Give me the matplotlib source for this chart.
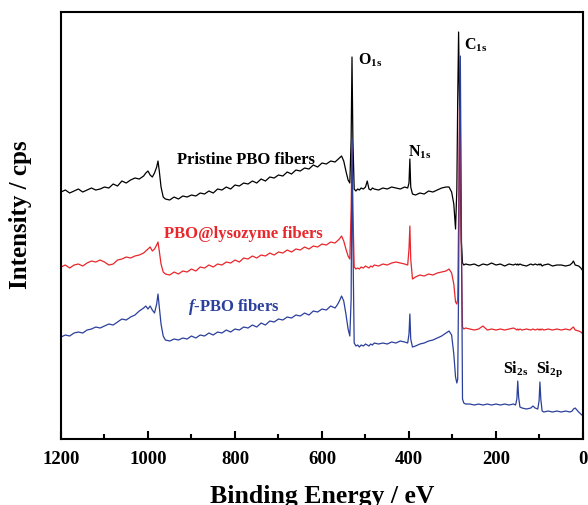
import numpy as np
import matplotlib
matplotlib.use("Agg")
import matplotlib.pyplot as plt
from matplotlib.ticker import MultipleLocator

# ------------------------------------------------------------
# data (binding energy grid shared by the three survey spectra)
# ------------------------------------------------------------
energy = [
    1200, 1190, 1180, 1170, 1160, 1150, 1140, 1130, 1120, 1110,
    1100, 1090, 1080, 1070, 1060, 1050, 1040, 1030, 1020, 1010,
    1005, 1000, 995, 990, 985, 980, 977, 974, 970, 965, 960,
    950, 940, 930, 920, 910, 900, 890, 880, 870, 860,
    850, 840, 830, 820, 810, 800, 790, 780, 770, 760,
    750, 740, 730, 720, 710, 700, 690, 680, 670, 660,
    650, 640, 630, 620, 610, 600, 590, 580, 570,
    565, 560, 555, 550, 545, 540, 536, 533, 531, 529, 526,
    522, 518, 514, 510, 505, 500, 496, 492, 488, 484, 480,
    470, 460, 450, 440, 430, 420, 410, 403, 400, 398, 396, 392,
    385, 375, 365, 355, 345, 335, 325, 315, 308, 302, 297,
    293, 290, 288, 286, 284, 282, 280, 277, 274, 270,
    260, 250, 240, 230, 220, 210, 200, 190, 180, 170, 160,
    155, 152, 150, 148, 145, 140,
    130, 120, 115, 110, 104, 101, 99, 97, 94, 90,
    80, 70, 60, 50, 40, 30,
    25, 22, 18, 10, 5, 0,
]

pristine = [
    247, 249, 246, 248, 250, 247, 249, 251, 249, 250,
    252, 251, 255, 253, 258, 256, 259, 261, 260, 263,
    266, 268, 264, 262, 266, 272, 278, 268, 252, 242, 240,
    239, 242, 240, 243, 242, 244, 243, 246, 245, 248,
    246, 250, 249, 252, 250, 254, 253, 256, 255, 258,
    256, 260, 258, 262, 261, 264, 263, 267, 265, 269,
    268, 271, 270, 274, 272, 276, 275, 278, 277,
    279, 281, 283, 278, 268, 259, 256, 300, 382, 300, 250,
    248, 250, 249, 251, 250, 252, 258, 250, 249, 251, 250,
    249, 251, 250, 252, 251, 250, 252, 251, 256, 280, 252, 245,
    244, 246, 245, 248, 247, 249, 251, 252, 252, 247, 235,
    210, 250, 340, 407, 340, 260, 200, 176, 174, 175,
    174, 175, 173, 175, 174, 176, 174, 175, 173, 175, 174,
    175, 174, 175, 174, 175, 174,
    173, 175, 174, 175, 174, 175, 174, 175, 173, 174,
    175, 173, 174, 174, 173, 174,
    176, 178, 174, 173, 171, 168,
]

lysozyme = [
    172, 174, 171, 174, 175, 173, 176, 178, 177, 179,
    177, 174, 175, 179, 180, 182, 181, 183, 184, 186,
    188, 190, 192, 188, 190, 194, 197, 188, 175, 167, 165,
    164, 167, 165, 168, 167, 170, 168, 172, 171, 174,
    172, 175, 174, 177, 176, 179, 177, 181, 180, 183,
    181, 184, 183, 186, 184, 187, 186, 189, 187, 190,
    189, 192, 190, 193, 192, 195, 194, 197, 196,
    198, 200, 203, 198, 190, 183, 180, 230, 290, 230, 172,
    170, 171, 170, 172, 171, 173, 172, 171, 173, 172, 174,
    173, 175, 174, 176, 177, 176, 175, 174, 190, 213, 180, 160,
    162, 164, 163, 165, 164, 166, 167, 168, 170, 166, 155,
    137, 135, 140, 220, 330, 320, 200, 112, 110, 111,
    110, 109, 110, 113, 109, 110, 109, 110, 109, 110, 111,
    110, 109, 110, 109, 110, 109,
    110, 109, 110, 109, 110, 109, 110, 109, 110, 109,
    110, 109, 110, 109, 110, 109,
    111, 112, 109, 108, 107, 105,
]

fpbo = [
    102, 104, 103, 106, 107, 106, 109, 110, 112, 111,
    113, 115, 114, 117, 120, 119, 122, 124, 128, 131,
    133, 130, 133, 129, 126, 135, 145, 132, 115, 103, 99,
    98, 100, 99, 101, 100, 103, 101, 104, 103, 106,
    104, 107, 106, 109, 107, 110, 109, 112, 111, 114,
    112, 116, 114, 118, 117, 120, 119, 122, 121, 124,
    123, 126, 124, 128, 127, 130, 129, 133, 131,
    134, 138, 143, 138, 125, 110, 103, 140, 300, 200, 96,
    93, 94, 92, 94, 93, 95, 94, 93, 95, 94, 96,
    95, 96, 95, 97, 96, 98, 97, 96, 105, 125, 100, 92,
    93, 95, 96, 98, 99, 101, 103, 106, 108, 104, 85,
    62, 56, 60, 150, 300, 383, 250, 40, 36, 35,
    35, 34, 35, 34, 35, 34, 35, 34, 35, 34, 35,
    34, 40, 58, 42, 32, 31,
    30, 31, 33, 31, 30, 38, 57, 40, 28, 27,
    28, 27, 28, 27, 28, 27,
    28, 30, 31, 27, 25, 23,
]

series_labels = ["Pristine PBO fibers", "PBO@lysozyme fibers", r"$\mathit{f}$-PBO fibers"]
series_colors = ["black", "#e8262b", "#2b3f9c"]

# peak annotations: (text, energy, intensity)
peak_names = [r"$\mathbf{O_{1s}}$", r"$\mathbf{C_{1s}}$", r"$\mathbf{N_{1s}}$",
              r"$\mathbf{Si_{2s}}$", r"$\mathbf{Si_{2p}}$"]
peak_x = [517, 274, 402, 184, 108]
peak_y = [380, 395, 288, 71, 71]

label_x = [775, 782, 802]
label_y = [280, 206, 133]

# ------------------------------------------------------------
# style
# ------------------------------------------------------------
plt.rcParams.update({
    "font.family": "Liberation Serif",
    "font.weight": "bold",
    "mathtext.fontset": "custom",
    "mathtext.rm": "Liberation Serif:bold",
    "mathtext.bf": "Liberation Serif:bold",
    "mathtext.it": "Liberation Serif:italic:bold",
    "axes.linewidth": 1.5,
})

fig = plt.figure(figsize=(5.88, 5.06), dpi=100)
ax = fig.add_axes([0.1037, 0.1304, 0.8878, 0.8439])

for vals, col in zip([pristine, lysozyme, fpbo], series_colors):
    ax.plot(energy, vals, color=col, linewidth=0.9)

for txt, lx, ly, col in zip(series_labels, label_x, label_y, series_colors):
    ax.text(lx, ly, txt, color=col, fontsize=12, fontweight="bold",
            ha="center", va="center")

for txt, px, py in zip(peak_names, peak_x, peak_y):
    ax.text(px, py, txt, color="black", fontsize=11.5, ha="left", va="center")

ax.set_xlim(1200, 0)
ax.set_ylim(0, 427)
ax.xaxis.set_major_locator(MultipleLocator(200))
ax.xaxis.set_minor_locator(MultipleLocator(100))
ax.tick_params(axis="x", which="major", direction="in", length=6, width=1.5,
               labelsize=13.5, pad=8, top=False)
ax.tick_params(axis="x", which="minor", direction="in", length=3.5, width=1.5, top=False)
ax.set_yticks([])
for lab in ax.get_xticklabels():
    lab.set_fontweight("bold")

ax.set_xlabel("Binding Energy / eV", fontsize=18.5, fontweight="bold", labelpad=12)
ax.set_ylabel("Intensity / cps", fontsize=18, fontweight="bold")
ax.yaxis.set_label_coords(-0.056, 0.527)

fig.savefig("out.png", dpi=100)
